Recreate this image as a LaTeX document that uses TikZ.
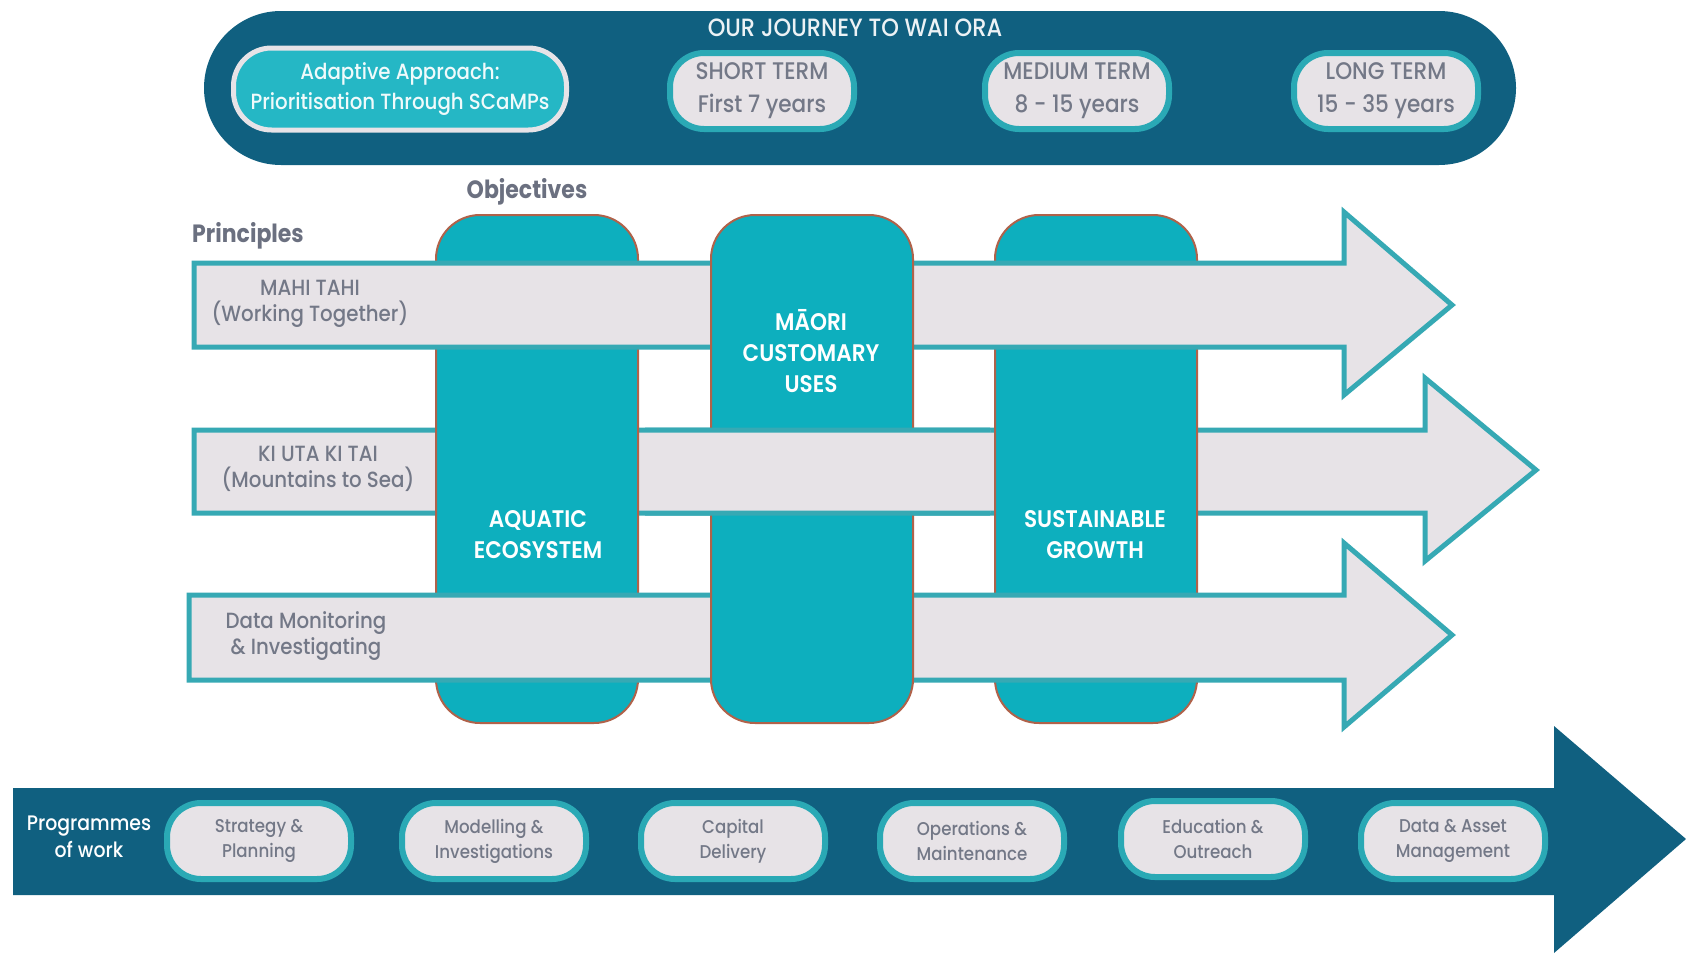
\documentclass[tikz,border=0pt]{standalone}
\usepackage{fontspec}
\setmainfont{Poppins}[FakeStretch=0.9, UprightFont=* Medium, BoldFont=* SemiBold]
\newfontfamily\heavyfont{Poppins}[FakeStretch=0.88, UprightFont=* Bold]
\usetikzlibrary{positioning}
\definecolor{dblue}{HTML}{106080}
\definecolor{tealc}{HTML}{0DAFBE}
\definecolor{pteal}{HTML}{2AA9B5}
\definecolor{lgray}{HTML}{E7E3E7}
\definecolor{tgray}{HTML}{737887}
\definecolor{hgray}{HTML}{6B7080}
\definecolor{colline}{HTML}{B0624A}
\definecolor{aline}{HTML}{36A9B4}
\tikzset{
  pill/.style={draw=pteal, line width=6pt, fill=lgray, rounded corners=34pt,
    minimum width=184pt, minimum height=76pt, text=tgray, align=center,
    font=\fontsize{24}{33}\selectfont},
  ppill/.style={draw=pteal, line width=6pt, fill=lgray, rounded corners=34pt,
    minimum width=184pt, minimum height=76pt, text=tgray, align=center,
    font=\fontsize{18.5}{25}\selectfont},
  colbox/.style={draw=colline, line width=2pt, fill=tealc, rounded corners=44pt,
    minimum width=202pt, minimum height=508pt},
  princarrow/.style={draw=aline, line width=5pt, fill=lgray, line join=miter},
  coltext/.style={text=white, align=center, font=\bfseries\fontsize{24}{31}\selectfont},
  prtext/.style={text=tgray, align=center, font=\fontsize{22}{26}\selectfont},
  heading/.style={text=hgray, font=\heavyfont\fontsize{25}{30}\selectfont},
}
\begin{document}
\begin{tikzpicture}[x=1pt,y=-1pt]
\useasboundingbox (0,0) rectangle (1686,953);
\fill[white] (0,0) rectangle (1686,953);

% top banner
\fill[dblue, rounded corners=77pt] (204,11) rectangle (1516,165);
\node[text=white!92!dblue, font=\fontsize{25}{28}\selectfont] (journey) at (855,28) {OUR JOURNEY TO WAI ORA};
\node[draw=lgray, line width=5pt, fill=tealc!90!white, rounded corners=38pt,
  minimum width=333pt, minimum height=82pt, text=white!94!tealc, align=center,
  font=\fontsize{22}{30}\selectfont] (adaptive) at (400,89)
  {Adaptive Approach:\\Prioritisation Through SCaMPs};
\node[pill] (short) at (762,91) {SHORT TERM\\First 7 years};
\node[pill] (medium) at (1077,91) {MEDIUM TERM\\8 - 15 years};
\node[pill] (long) at (1386,91) {LONG TERM\\15 - 35 years};

% headings
\node[heading] (objectives) at (527,192) {Objectives};
\node[heading] (principles) at (248,236) {Principles};

% weave: arrow 2 first
\path[princarrow] (194,430) -- (1425,430) -- (1425,378) -- (1536,470) -- (1425,561) -- (1425,513) -- (194,513) -- cycle;
\node[colbox] (aquatic) at (537,469) {};
\node[colbox] (sustain) at (1096,469) {};
\path[princarrow] (194,263) -- (1344,263) -- (1344,212) -- (1452,305) -- (1344,395) -- (1344,347) -- (194,347) -- cycle;
\path[princarrow] (189,595) -- (1344,595) -- (1344,543) -- (1452,635) -- (1344,727) -- (1344,680) -- (189,680) -- cycle;
\node[colbox] (maori) at (812,469) {};
\begin{scope}
  \clip (645,400) rectangle (990,540);
  \path[princarrow] (194,430) -- (1425,430) -- (1425,378) -- (1536,470) -- (1425,561) -- (1425,513) -- (194,513) -- cycle;
\end{scope}

% principle texts
\node[prtext] (mahi) at (310,304) {MAHI TAHI\\(Working Together)};
\node[prtext] (kiuta) at (318,469) {KI UTA KI TAI\\(Mountains to Sea)};
\node[prtext] (datamon) at (306,636) {Data Monitoring\\\& Investigating};

% column texts
\node[coltext] (maoritxt) at (811,351) {MĀORI\\CUSTOMARY\\USES};
\node[coltext] (aquatictxt) at (538,535) {AQUATIC\\ECOSYSTEM};
\node[coltext] (sustaintxt) at (1095,535) {SUSTAINABLE\\GROWTH};

% bottom arrow
\fill[dblue] (13,788) -- (1554,788) -- (1554,726) -- (1686,839) -- (1554,953) -- (1554,895) -- (13,895) -- cycle;
\node[text=white, align=center, font=\fontsize{21}{27}\selectfont] (programmes) at (89,837) {Programmes\\of work};
\node[ppill] (strategy) at (259,841) {Strategy \&\\Planning};
\node[ppill] (modelling) at (494,841) {Modelling \&\\Investigations};
\node[ppill] (capital) at (733,841) {Capital\\Delivery};
\node[ppill] (operations) at (972,841) {Operations \&\\Maintenance};
\node[ppill] (education) at (1213,839) {Education \&\\Outreach};
\node[ppill] (dataasset) at (1453,841) {Data \& Asset\\Management};
\end{tikzpicture}
\end{document}
